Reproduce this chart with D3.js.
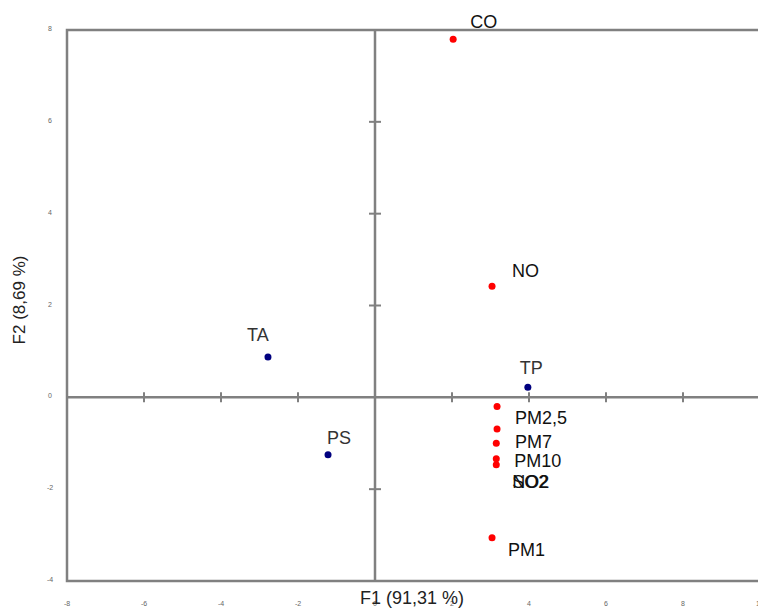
<!DOCTYPE html>
<html>
<head>
<meta charset="utf-8">
<script src="https://cdn.jsdelivr.net/npm/d3@7"></script>
<style>
  body { margin: 0; background: #fff; }
  svg { display: block; font-family: "Liberation Sans", Arial, sans-serif; }
</style>
</head>
<body>
<svg id="chart"></svg>
<script>
// variables and their coordinates on F1 / F2
const names = ["CO", "NO", "TP", "TA", "PS", "PM2,5", "PM7", "PM10", "SO2", "NO2", "PM1"];
const f1 = [2.03, 3.04, 3.97, -2.78, -1.22, 3.17, 3.17, 3.15, 3.15, 3.15, 3.04];
const f2 = [7.80, 2.42, 0.22, 0.88, -1.25, -0.20, -0.69, -1.00, -1.34, -1.47, -3.06];
const groups = ["pol", "pol", "met", "met", "met", "pol", "pol", "pol", "pol", "pol", "pol"];

const xTicks = [-8, -6, -4, -2, 0, 2, 4, 6, 8, 10];
const yTicks = [-4, -2, 0, 2, 4, 6, 8];

// label placement (pixel offsets from the point)
const labelOffset = {
  "CO": [17, -11], "NO": [20, -9], "TP": [-8, -13], "TA": [-21, -16], "PS": [-1, -11],
  "PM2,5": [18, 17], "PM7": [18, 19], "PM10": [18, 24], "SO2": [16, 29], "NO2": [16, 23],
  "PM1": [16, 18]
};

const width = 758, height = 610;
const margin = { top: 30, right: -2, bottom: 29, left: 67 };

const svg = d3.select("#chart")
  .attr("width", width)
  .attr("height", height);

const x = d3.scaleLinear().domain([-8, 10]).range([margin.left, width - margin.right]);
const y = d3.scaleLinear().domain([-4, 8]).range([height - margin.bottom, margin.top]);

const axisColor = "#808080";

// frame
svg.append("rect")
  .attr("x", x(-8)).attr("y", y(8))
  .attr("width", x(10) - x(-8)).attr("height", y(-4) - y(8))
  .attr("fill", "none").attr("stroke", axisColor).attr("stroke-width", 2.5);

// zero lines
svg.append("line")
  .attr("x1", x(-8)).attr("x2", x(10)).attr("y1", y(0)).attr("y2", y(0))
  .attr("stroke", axisColor).attr("stroke-width", 2.5);
svg.append("line")
  .attr("x1", x(0)).attr("x2", x(0)).attr("y1", y(8)).attr("y2", y(-4))
  .attr("stroke", axisColor).attr("stroke-width", 2.5);

// small ticks on the zero lines
svg.selectAll(".xt").data(xTicks.filter(d => d !== 0 && d > -8 && d < 10)).enter()
  .append("line")
  .attr("x1", d => x(d)).attr("x2", d => x(d))
  .attr("y1", y(0) - 5).attr("y2", y(0) + 5)
  .attr("stroke", axisColor).attr("stroke-width", 2);
svg.selectAll(".yt").data(yTicks.filter(d => d !== 0 && d > -4 && d < 8)).enter()
  .append("line")
  .attr("x1", x(0) - 6).attr("x2", x(0) + 6)
  .attr("y1", d => y(d)).attr("y2", d => y(d))
  .attr("stroke", axisColor).attr("stroke-width", 2);

// tick labels outside the frame
svg.selectAll(".xl").data(xTicks).enter()
  .append("text")
  .attr("x", d => x(d)).attr("y", 606)
  .attr("text-anchor", "middle")
  .attr("font-size", 7).attr("fill", "#666")
  .text(d => d);
svg.selectAll(".yl").data(yTicks).enter()
  .append("text")
  .attr("x", 50).attr("y", d => y(d) + 1)
  .attr("text-anchor", "middle")
  .attr("font-size", 7).attr("fill", "#666")
  .text(d => d);

// axis titles
svg.append("text")
  .attr("x", 412).attr("y", 604)
  .attr("text-anchor", "middle")
  .attr("font-size", 18).attr("fill", "#222")
  .text("F1 (91,31 %)");
svg.append("text")
  .attr("transform", "translate(25,300) rotate(-90)")
  .attr("text-anchor", "middle")
  .attr("font-size", 17).attr("fill", "#222")
  .text("F2 (8,69 %)");

const data = names.map((n, i) => ({ name: n, f1: f1[i], f2: f2[i], group: groups[i] }));
const color = d3.scaleOrdinal().domain(["pol", "met"]).range(["#ff0000", "#00007f"]);

svg.selectAll(".pt").data(data).enter()
  .append("circle")
  .attr("cx", d => x(d.f1)).attr("cy", d => y(d.f2))
  .attr("r", 3.5)
  .attr("fill", d => color(d.group));

svg.selectAll(".lab").data(data).enter()
  .append("text")
  .attr("x", d => x(d.f1) + labelOffset[d.name][0])
  .attr("y", d => y(d.f2) + labelOffset[d.name][1])
  .attr("font-size", 18)
  .attr("fill", d => d.group === "met" ? "#333" : "#111")
  .text(d => d.name);
</script>
</body>
</html>
